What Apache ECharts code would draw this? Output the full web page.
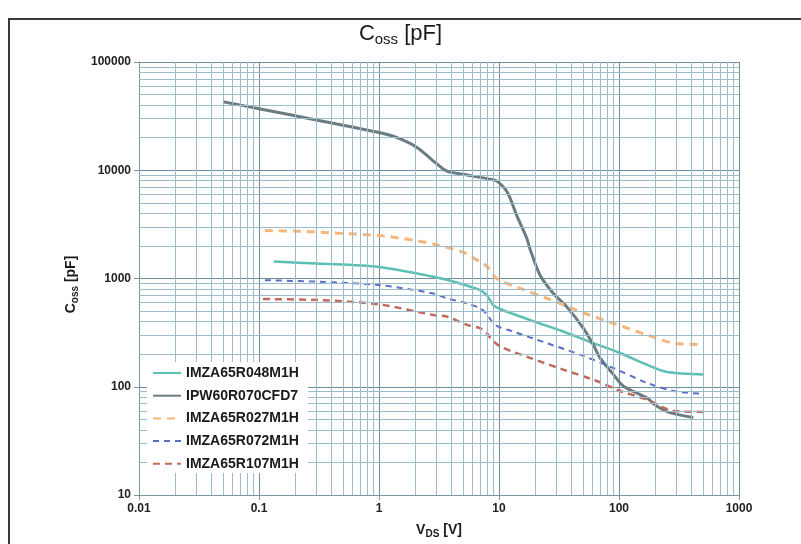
<!DOCTYPE html>
<html><head><meta charset="utf-8">
<script src="https://cdn.jsdelivr.net/npm/echarts@6/dist/echarts.min.js"></script>
<style>html,body{margin:0;padding:0;background:#fff}#c{width:801px;height:544px}</style>
</head><body><div id="c"></div>
<script>
// ---- data ----
const xTickLabels = ['0.01','0.1','1','10','100','1000'];
const yTickLabels = ['10','100','1000','10000','100000'];
const seriesNames = ['IMZA65R048M1H','IPW60R070CFD7','IMZA65R027M1H','IMZA65R072M1H','IMZA65R107M1H'];

const v048 = [0.133, 0.3, 1.0, 2.84, 4.73, 6.95, 7.89, 8.97, 10.2, 18.1, 34.3, 61.1, 102, 170, 250, 504];
const c048 = [1432, 1374, 1279, 1038, 900, 782, 703, 569, 523, 414, 324, 253, 205, 160, 137, 130];

const v070 = [0.05, 0.1, 0.3, 1.0, 1.4, 2.07, 3.0, 3.69, 5.0, 8.4, 9.6, 11.7, 14.1, 17.1, 18.1, 22.0, 28.4, 36.6, 50.4, 61.1, 69.5, 89.7, 109, 170, 206, 266, 416];
const c070 = [42950, 37060, 29100, 22300, 20100, 16260, 11590, 9800, 9180, 8260, 7930, 6280, 3785, 2330, 1885, 1072, 728, 550, 348, 244, 185, 130, 101, 79, 66.5, 57.7, 52];

const v027 = [0.112, 0.22, 0.47, 1.0, 2.0, 3.0, 5.0, 6.95, 7.9, 9.56, 15.0, 25, 47.3, 89.7, 170, 284, 504];
const c027 = [2775, 2730, 2620, 2494, 2250, 2050, 1750, 1423, 1300, 1000, 809, 656, 495, 386, 302, 253, 245];

const v072 = [0.112, 0.32, 1.0, 2.84, 3.66, 5.4, 6.95, 7.9, 9.26, 13.1, 25, 47.3, 89.7, 170, 284, 504];
const c072 = [964, 933, 869, 728, 656, 590, 531, 470, 373, 324, 253, 198, 149, 109, 91.4, 86];

const v107 = [0.108, 0.32, 1.0, 2.84, 3.66, 5.4, 6.95, 7.9, 8.5, 10.2, 18.1, 34.3, 65.1, 102, 170, 284, 504];
const c107 = [646, 632, 577, 460, 445, 373, 348, 313, 282, 236, 185, 144, 113, 91.4, 76.5, 59.8, 58.6];

// minor grid positions (2..9 within each decade)
const xMinor = [], yMinor = [];
[0.01,0.1,1,10,100].forEach(d => { for (let m = 2; m <= 9; m++) xMinor.push(+(m*d).toPrecision(3)); });
[10,100,1000,10000].forEach(d => { for (let m = 2; m <= 9; m++) yMinor.push(m*d); });

const zip = (a, b) => a.map((v, i) => [v, b[i]]);
const FONT = 'Liberation Sans, Arial, sans-serif';
const fmt = v => String(+(+v).toPrecision(6));

const chart = echarts.init(document.getElementById('c'), null, {renderer: 'canvas'});

const lineSeries = (name, data, color, width, type) => ({
  name, type: 'line', data, smooth: 0.3, symbol: 'none', showSymbol: false,
  lineStyle: {color, width, type}, itemStyle: {color}, z: 3, animation: false
});

chart.setOption({
  animation: false,
  title: {
    text: '{a|C}{b|oss}{a| [pF]}', left: 'center', top: 16,
    textStyle: { fontWeight: 'normal', rich: {
      a: {fontSize: 22, fontWeight: 'normal', fontFamily: FONT, color: '#1a1a1a', lineHeight: 26},
      b: {fontSize: 15, fontWeight: 'normal', fontFamily: FONT, color: '#1a1a1a', lineHeight: 10, verticalAlign: 'bottom'}
    }}
  },
  grid: {left: 139, right: 62, top: 62, bottom: 46},
  xAxis: {
    type: 'log', logBase: 10, min: 0.01, max: 1000,
    name: '{a|V}{b|DS}{a| [V]}', nameLocation: 'middle', nameGap: 26,
    nameTextStyle: { rich: {
      a: {fontSize: 14, fontWeight: 'bold', fontFamily: FONT, color: '#1a1a1a', lineHeight: 18},
      b: {fontSize: 10, fontWeight: 'bold', fontFamily: FONT, color: '#1a1a1a', lineHeight: 8, verticalAlign: 'bottom'}
    }},
    axisLine: {show: true, lineStyle: {color: '#7d95a1', width: 1}},
    axisTick: {show: true, length: 5, lineStyle: {color: '#7d95a1'}},
    axisLabel: {fontSize: 12, fontWeight: 'bold', fontFamily: FONT, color: '#222', margin: 8,
      formatter: v => { const s = fmt(v); return xTickLabels.includes(s) ? s : ''; }},
    splitLine: {show: true, lineStyle: {color: '#6f8d9b', width: 1}},
    minorTick: {show: false}, minorSplitLine: {show: false}
  },
  yAxis: {
    type: 'log', logBase: 10, min: 10, max: 100000,
    name: '{a|C}{b|oss}{a| [pF]}', nameLocation: 'middle', nameGap: 55,
    nameTextStyle: { padding: [0, 0, 0, -12], rich: {
      a: {fontSize: 14, fontWeight: 'bold', fontFamily: FONT, color: '#1a1a1a', lineHeight: 18},
      b: {fontSize: 10, fontWeight: 'bold', fontFamily: FONT, color: '#1a1a1a', lineHeight: 8, verticalAlign: 'bottom'}
    }},
    axisLine: {show: true, lineStyle: {color: '#7d95a1', width: 1}},
    axisTick: {show: true, length: 5, lineStyle: {color: '#7d95a1'}},
    axisLabel: {fontSize: 12, fontWeight: 'bold', fontFamily: FONT, color: '#222', margin: 8,
      formatter: v => { const s = fmt(v); return yTickLabels.includes(s) ? s : ''; }},
    splitLine: {show: true, lineStyle: {color: '#6f8d9b', width: 1}},
    minorTick: {show: false}, minorSplitLine: {show: false}
  },
  legend: {
    data: seriesNames, orient: 'vertical', left: 147, top: 362, z: 60,
    padding: [4, 5, 4, 5],
    itemWidth: 28, itemHeight: 14, itemGap: 8.7,
    itemStyle: {opacity: 0},
    textStyle: {fontSize: 14, fontWeight: 'bold', fontFamily: FONT, color: '#1a1a1a'}
  },
  series: [
    {
      type: 'line', name: '_grid', data: [[0.01, 10], [1000, 100000]], symbol: 'none', silent: true,
      lineStyle: {opacity: 0}, z: 1, legendHoverLink: false, animation: false,
      markLine: {
        silent: true, symbol: ['none', 'none'], label: {show: false}, animation: false,
        lineStyle: {color: '#9dbccb', width: 1, type: 'solid'},
        emphasis: {disabled: true},
        data: xMinor.map(x => ({xAxis: x})).concat(yMinor.map(y => ({yAxis: y})))
      }
    },
    lineSeries(seriesNames[0], zip(v048, c048), '#5cbfb3', 2.5, 'solid'),
    lineSeries(seriesNames[1], zip(v070, c070), '#6b7b82', 3, 'solid'),
    lineSeries(seriesNames[2], zip(v027, c027), '#f5b67c', 3, [8, 6]),
    lineSeries(seriesNames[3], zip(v072, c072), '#5b6dc6', 2, [6, 5]),
    lineSeries(seriesNames[4], zip(v107, c107), '#c06a5c', 2.5, [7, 5])
  ],
  graphic: [
    {
      type: 'rect', shape: {x: 147, y: 362, width: 161, height: 111},
      style: {fill: '#ffffff'}, silent: true, z: 50
    },
    {
      type: 'rect', shape: {x: 9, y: 19, width: 820, height: 600},
      style: {fill: 'none', stroke: '#3a3a3a', lineWidth: 2}, silent: true, z: 100
    }
  ]
});
</script>
</body></html>
